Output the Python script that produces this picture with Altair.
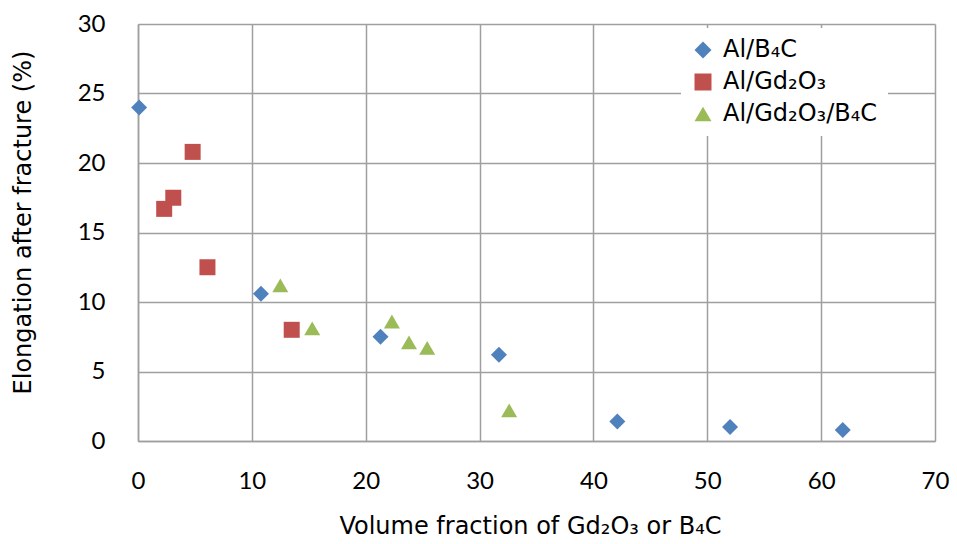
import altair as alt
import pandas as pd

series = ["Al/B₄C", "Al/Gd₂O₃", "Al/Gd₂O₃/B₄C"]
colors = ["#4F81BD", "#C0504D", "#9BBB59"]
shapes = ["diamond", "square", "triangle-up"]

b4c_x = [0.1, 10.8, 21.3, 31.7, 42.1, 52.0, 61.9]
b4c_y = [24.0, 10.6, 7.5, 6.2, 1.4, 1.0, 0.8]
gd_x = [4.8, 3.1, 2.3, 6.1, 13.5]
gd_y = [20.8, 17.5, 16.7, 12.5, 8.0]
mix_x = [12.5, 15.3, 22.3, 23.8, 25.4, 32.6]
mix_y = [11.2, 8.1, 8.6, 7.1, 6.7, 2.2]

x_ticks = [0, 10, 20, 30, 40, 50, 60, 70]
y_ticks = [0, 5, 10, 15, 20, 25, 30]

rows = []
for name, xs, ys in zip(series, [b4c_x, gd_x, mix_x], [b4c_y, gd_y, mix_y]):
    for a, b in zip(xs, ys):
        rows.append({"series": name, "x": a, "y": b})
df = pd.DataFrame(rows)

grid = "#9F9F9F"
tick_font = "Lato"
title_font = "DejaVu Sans"

legend = alt.Legend(
    title=None, orient="none", legendX=543, legendY=4,
    fillColor="white", padding=10, labelFont=title_font, labelFontSize=24,
    labelColor="black", symbolSize=289, rowPadding=8, labelOffset=8,
    symbolStrokeWidth=0, symbolOpacity=1,
)

chart = alt.Chart(df).mark_point(filled=True, size=256, opacity=1).encode(
    x=alt.X("x:Q", scale=alt.Scale(domain=[0, 70], nice=False),
            axis=alt.Axis(values=x_ticks, title="Volume fraction of Gd₂O₃ or B₄C",
                          ticks=False, labelPadding=28, labelFlush=False,
                          labelFont=tick_font, labelFontSize=24,
                          labelColor="black", titleFont=title_font, titleFontSize=24,
                          titleFontWeight="normal", titleColor="black",
                          titleX=392, titleY=85, titleBaseline="middle",
                          domainColor=grid, domainWidth=1.5, gridColor=grid, gridWidth=1.5)),
    y=alt.Y("y:Q", scale=alt.Scale(domain=[0, 30], nice=False),
            axis=alt.Axis(values=y_ticks, title="Elongation after fracture (%)",
                          ticks=False, labelPadding=33, labelFlush=False,
                          labelFont=tick_font, labelFontSize=24,
                          labelColor="black", titleFont=title_font, titleFontSize=24,
                          titleFontWeight="normal", titleColor="black",
                          titleX=-115, titleY=198, titleBaseline="middle",
                          domainColor=grid, domainWidth=1.5, gridColor=grid, gridWidth=1.5)),
    color=alt.Color("series:N", scale=alt.Scale(domain=series, range=colors), legend=legend),
    shape=alt.Shape("series:N", scale=alt.Scale(domain=series, range=shapes), legend=legend),
).properties(
    width=797, height=417, autosize="none",
    padding={"left": 130, "top": 16, "right": 14, "bottom": 100},
).configure_view(stroke=None)

chart.save("out.html", embed_options={"renderer": "svg", "actions": False})
